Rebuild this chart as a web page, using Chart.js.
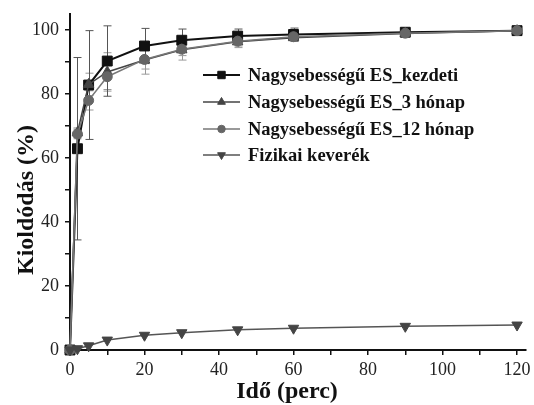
<!DOCTYPE html>
<html>
<head>
<meta charset="utf-8">
<title>Kioldódás</title>
<script src="https://cdn.jsdelivr.net/npm/chart.js@4.4.0/dist/chart.umd.min.js"></script>
<style>
  html, body { margin: 0; padding: 0; background: #fff; }
  #wrap { width: 534px; height: 405px; }
</style>
</head>
<body>
<div id="wrap"><canvas id="c"></canvas></div>
<script>
// mérési időpontok (perc)
const ido = [0, 2, 5, 10, 20, 30, 45, 60, 90, 120];

// kioldódás (%) és szórás
const kezdeti = [0, 62.9, 82.8, 90.3, 95.0, 96.8, 98.1, 98.6, 99.3, 99.8];
const kezdetiHiba = [0, 28.5, 17, 11, 5.5, 3.5, 2.2, 2.0, 0.8, 0.6];
const honap3 = [0, 67.9, 83.0, 86.9, 90.6, 93.8, 96.3, 97.6, 98.9, 99.8];
const honap3Hiba = [0, 1.5, 3.5, 6.0, 4.4, 3.2, 1.8, 1.2, 0.8, 0.5];
const honap12 = [0, 67.5, 78.0, 85.4, 90.8, 94.0, 96.5, 97.9, 99.0, 99.8];
const honap12Hiba = [0, 1.5, 3.0, 4.0, 3.0, 2.0, 1.5, 1.0, 0.8, 0.5];
const fizikai = [0, 0.4, 1.3, 3.1, 4.6, 5.4, 6.3, 6.8, 7.4, 7.8];

const nevek = ['Nagysebességű ES_kezdeti', 'Nagysebességű ES_3 hónap', 'Nagysebességű ES_12 hónap', 'Fizikai keverék'];

// tengely osztások (a feliratozottak 20-asával)
const xOsztas = [0, 10, 20, 30, 40, 50, 60, 70, 80, 90, 100, 110, 120];
const yOsztas = [0, 10, 20, 30, 40, 50, 60, 70, 80, 90, 100];

const serif = "'Liberation Serif', 'Times New Roman', serif";

function pontok(arr) {
  return arr.map((v, i) => ({ x: ido[i], y: v }));
}

function sorozat(nev, adat, hiba, szin, vonal, stilus, r, rot) {
  return {
    label: nev,
    data: pontok(adat),
    hiba: hiba,
    borderColor: vonal,
    borderWidth: nev === nevek[0] ? 2 : 1.5,
    backgroundColor: szin,
    pointBackgroundColor: szin,
    pointBorderColor: szin,
    pointBorderWidth: 1,
    pointStyle: stilus,
    pointRadius: r,
    pointRotation: rot || 0,
    tension: 0,
    clip: false
  };
}

// hibasávok a pontok mögé
const hibaPlugin = {
  id: 'hiba',
  beforeDatasetsDraw(chart) {
    const ctx = chart.ctx;
    const xs = chart.scales.x, ys = chart.scales.y;
    chart.data.datasets.forEach(ds => {
      if (!ds.hiba) return;
      ctx.save();
      ctx.strokeStyle = ds.label === nevek[0] ? '#555' : '#999';
      ctx.lineWidth = 1;
      ds.data.forEach((p, i) => {
        const e = ds.hiba[i];
        if (!e) return;
        const px = Math.round(xs.getPixelForValue(p.x)) + 0.5;
        const t = ys.getPixelForValue(p.y + e);
        const b = ys.getPixelForValue(p.y - e);
        ctx.beginPath();
        ctx.moveTo(px, t); ctx.lineTo(px, b);
        ctx.moveTo(px - 4, t); ctx.lineTo(px + 4, t);
        ctx.moveTo(px - 4, b); ctx.lineTo(px + 4, b);
        ctx.stroke();
      });
      ctx.restore();
    });
  }
};

// jelmagyarázat és tengelycímek
const feliratPlugin = {
  id: 'felirat',
  afterDraw(chart) {
    const ctx = chart.ctx;
    ctx.save();
    const sorY = [75, 102, 129, 155];
    chart.data.datasets.forEach(ds => {
      const y = sorY[nevek.indexOf(ds.label)];
      ctx.strokeStyle = ds.borderColor;
      ctx.lineWidth = ds.borderWidth;
      ctx.beginPath();
      ctx.moveTo(203, y); ctx.lineTo(240, y);
      ctx.stroke();
      ctx.fillStyle = ds.pointBackgroundColor;
      ctx.strokeStyle = ds.pointBorderColor;
      ctx.lineWidth = 1;
      Chart.helpers.drawPoint(ctx, {
        pointStyle: ds.pointStyle,
        radius: ds.pointRadius * 0.75,
        rotation: ds.pointRotation,
        borderWidth: 1
      }, 221.5, y);
      ctx.fillStyle = '#111';
      ctx.font = 'bold 18.5px ' + serif;
      ctx.textBaseline = 'middle';
      ctx.textAlign = 'left';
      ctx.fillText(ds.label, 248, y + 1);
    });

    ctx.fillStyle = '#111';
    ctx.font = 'bold 24px ' + serif;
    ctx.textAlign = 'center';
    ctx.textBaseline = 'middle';
    ctx.fillText('Idő (perc)', 287, 392);
    ctx.translate(27, 200);
    ctx.rotate(-Math.PI / 2);
    ctx.fillText('Kioldódás (%)', 0, 0);
    ctx.restore();
  }
};

const ctx = document.getElementById('c').getContext('2d');
const chart = new Chart(ctx, {
  type: 'line',
  data: {
    // a kezdeti sorozat kerül legfelülre
    datasets: [
      sorozat(nevek[3], fizikai, null, '#444', '#555', 'triangle', 6, 180),
      sorozat(nevek[2], honap12, honap12Hiba, '#666', '#777', 'circle', 5, 0),
      sorozat(nevek[1], honap3, honap3Hiba, '#444', '#444', 'triangle', 6, 0),
      sorozat(nevek[0], kezdeti, kezdetiHiba, '#111', '#111', 'rect', 7, 0)
    ]
  },
  options: {
    responsive: true,
    maintainAspectRatio: false,
    animation: false,
    layout: { padding: { top: 14, right: 7, left: 0, bottom: 0 } },
    plugins: {
      legend: { display: false },
      tooltip: { enabled: false }
    },
    scales: {
      x: {
        type: 'linear',
        min: 0,
        max: 122.4,
        afterBuildTicks: s => { s.ticks = xOsztas.map(v => ({ value: v })); },
        afterFit: s => { s.height = 55; s.paddingLeft = 0; s.paddingRight = 0; },
        border: { display: true, color: '#111', width: 2 },
        grid: { drawOnChartArea: false, drawTicks: true, tickLength: 5, color: '#111', lineWidth: 1.5 },
        ticks: {
          autoSkip: false,
          maxRotation: 0,
          padding: 4,
          color: '#222',
          font: { family: serif, size: 18 },
          callback: v => (v % 20 === 0 ? v : '')
        }
      },
      y: {
        type: 'linear',
        min: 0,
        max: 105,
        afterBuildTicks: s => { s.ticks = yOsztas.map(v => ({ value: v })); },
        afterFit: s => { s.width = 70; s.paddingTop = 0; s.paddingBottom = 0; },
        border: { display: true, color: '#111', width: 2 },
        grid: { drawOnChartArea: false, drawTicks: true, tickLength: 5, color: '#111', lineWidth: 1.5 },
        ticks: {
          autoSkip: false,
          padding: 6,
          color: '#222',
          font: { family: serif, size: 18 },
          callback: v => (v % 20 === 0 ? v : '')
        }
      }
    }
  },
  plugins: [hibaPlugin, feliratPlugin]
});
</script>
</body>
</html>
